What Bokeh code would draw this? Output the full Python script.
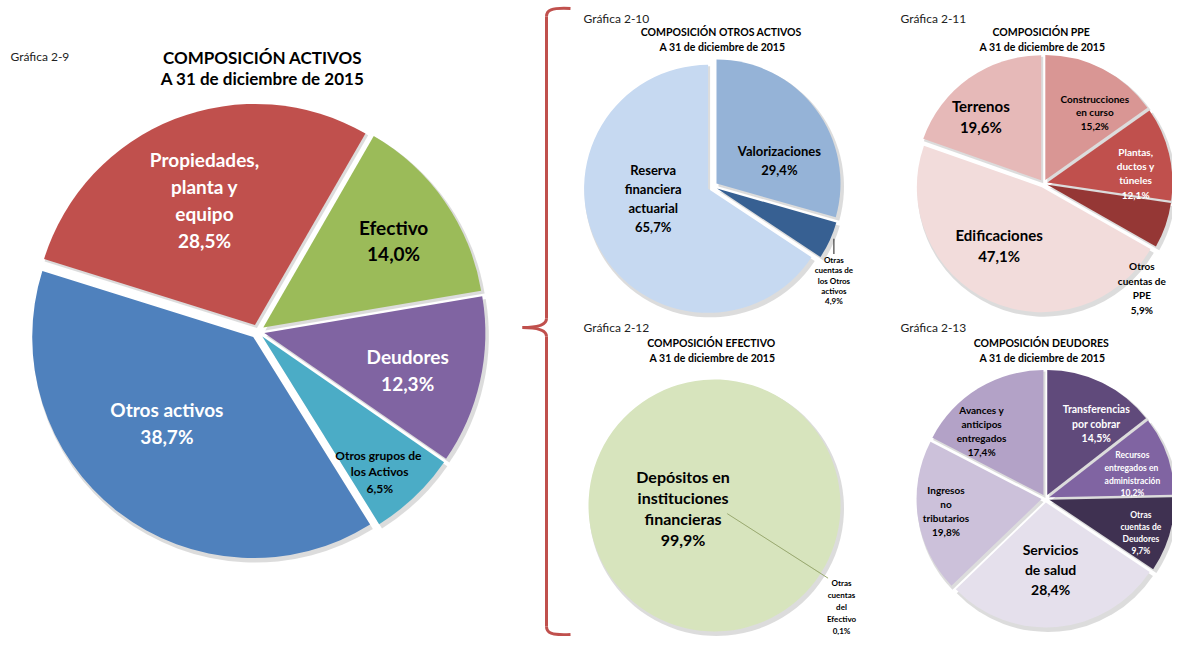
import numpy as np
from bokeh.plotting import figure
from bokeh.models import Range1d
from bokeh.core.properties import value
from bokeh.embed import file_html
from bokeh.resources import INLINE

# ---------------- data ----------------
activos_names = ["Efectivo", "Deudores", "Otros grupos de los Activos", "Otros activos",
                 "Propiedades, planta y equipo"]
activos_pct = [14.0, 12.3, 6.5, 38.7, 28.5]

otros_names = ["Valorizaciones", "Otras cuentas de los Otros activos", "Reserva financiera actuarial"]
otros_pct = [29.4, 4.9, 65.7]

ppe_names = ["Construcciones en curso", "Plantas, ductos y túneles", "Otros cuentas de PPE",
             "Edificaciones", "Terrenos"]
ppe_pct = [15.2, 12.1, 5.9, 47.1, 19.6]

efectivo_names = ["Depósitos en instituciones financieras", "Otras cuentas del Efectivo"]
efectivo_pct = [99.9, 0.1]

deudores_names = ["Transferencias por cobrar", "Recursos entregados en administración",
                  "Otras cuentas de Deudores", "Servicios de salud", "Ingresos no tributarios",
                  "Avances y anticipos entregados"]
deudores_pct = [14.5, 10.2, 9.7, 28.4, 19.8, 17.4]

# label line breaks (text only)
activos_lines = [["Efectivo"], ["Deudores"], ["Otros grupos  de", "los Activos"], ["Otros activos"],
                 ["Propiedades,", "planta y", "equipo"]]
otros_lines = [["Valorizaciones"], ["Otras", "cuentas de", "los Otros", "activos"],
               ["Reserva", "financiera", "actuarial"]]
ppe_lines = [["Construcciones", "en curso"], ["Plantas,", "ductos y", "túneles"],
             ["Otros", "cuentas de", "PPE"], ["Edificaciones"], ["Terrenos"]]
efectivo_lines = [["Depósitos en", "instituciones", "financieras"], ["Otras", "cuentas", "del", "Efectivo"]]
deudores_lines = [["Transferencias", "por cobrar"], ["Recursos", "entregados  en", "administración"],
                  ["Otras", "cuentas de", "Deudores"], ["Servicios", "de salud"],
                  ["Ingresos", "no", "tributarios"], ["Avances y", "anticipos", "entregados"]]

FONT = value("Lato")
W, H = 1172, 636


def Y(yref):
    return 652 - yref


p = figure(width=W, height=H, x_range=Range1d(0, 1172), y_range=Range1d(16, 652),
           output_backend="svg", toolbar_location=None, min_border=0)
p.axis.visible = False
p.grid.visible = False
p.outline_line_color = None
p.background_fill_color = "white"


def fmt(v):
    return f"{v:.1f}".replace(".", ",")


def pie(cx, cyref, r, pct, colors, start, explode, shadow=True):
    pct = np.asarray(pct, float)
    frac = pct / pct.sum()
    ends = start + np.cumsum(frac) * 360
    begins = ends - frac * 360
    mids = (begins + ends) / 2
    rad = np.radians(mids)
    ox = cx + explode * np.sin(rad)
    oy = Y(cyref) + explode * np.cos(rad)
    sa = np.radians(90 - ends)
    ea = np.radians(90 - begins)
    if shadow:
        p.wedge(x=ox + 2, y=oy - 3, radius=r + 1.5, start_angle=sa, end_angle=ea,
                fill_color="#808080", fill_alpha=0.28, line_color=None)
    p.wedge(x=ox, y=oy, radius=r, start_angle=sa, end_angle=ea,
            fill_color=colors, line_color=None)
    return ox, oy, mids


def put_label(ox, oy, mid, r, lines, f, dth, size, color, lh, bold=True):
    a = np.radians(mid + dth)
    x = ox + f * r * np.sin(a)
    y = oy + f * r * np.cos(a)
    n = len(lines)
    ys = [y + (n - 1) / 2 * lh - k * lh for k in range(n)]
    p.text(x=[x] * n, y=ys, text=lines, text_font=FONT, text_font_size=f"{size}px",
           text_font_style="bold" if bold else "normal", text_color=color,
           text_align="center", text_baseline="middle")
    return x, ys[0] + lh / 2


def title(x, y1, y2, t1, t2, size, gx, gy, gtext, gsize=12):
    p.text(x=[x, x], y=[Y(y1), Y(y2)], text=[t1, t2], text_font=FONT, text_font_size=f"{size}px",
           text_font_style="bold", text_color="black", text_align="center", text_baseline="middle")
    p.text(x=[gx], y=[Y(gy)], text=[gtext], text_font=FONT, text_font_size=f"{gsize}px",
           text_color="#222222", text_align="left", text_baseline="middle")


# ---------------- Gráfica 2-9 ----------------
title(262, 57, 78, "COMPOSICIÓN ACTIVOS", "A 31 de diciembre de 2015", 17, 10, 56, "Gráfica 2-9")
c_act = ["#9BBB59", "#8064A2", "#4BACC6", "#4F81BD", "#C0504D"]
ox, oy, mids = pie(257, 331, 221, activos_pct, c_act, 30, 7)
spec = [(0.71, 1, 19, "black", 26), (0.67, 2, 19, "white", 27), (0.81, 2.6, 12, "black", 16.5),
        (0.55, 7.5, 19, "white", 27), (0.61, -0.7, 19, "white", 27)]
for i, (f, d, s, c, lh) in enumerate(spec):
    put_label(ox[i], oy[i], mids[i], 221, activos_lines[i] + [fmt(activos_pct[i]) + "%"], f, d, s, c, lh)

# ---------------- bracket ----------------
bc = "#C0504D"
p.bezier(x0=[570, 546, 522, 546], y0=[Y(8), Y(318), Y(327), Y(626)],
         x1=[546, 522, 546, 570], y1=[Y(16), Y(327), Y(336), Y(634)],
         cx0=[550, 546, 534, 546], cy0=[Y(7), Y(325), Y(327), Y(632)],
         cx1=[546, 534, 546, 550], cy1=[Y(10), Y(327), Y(329), Y(635)],
         line_color=bc, line_width=3)
p.segment(x0=[546, 546], y0=[Y(16), Y(336)], x1=[546, 546], y1=[Y(318), Y(626)],
          line_color=bc, line_width=3)

# ---------------- Gráfica 2-10 ----------------
title(722, 31, 46, "COMPOSICIÓN  OTROS ACTIVOS", "A 31 de diciembre de 2015", 10.5, 583, 18, "Gráfica 2-10")
c_otr = ["#95B3D7", "#376092", "#C6D9F1"]
ox, oy, mids = pie(712, 186, 124, otros_pct, c_otr, 0, 5)
put_label(ox[0], oy[0], mids[0], 124, otros_lines[0] + [fmt(otros_pct[0]) + "%"], 0.54, 17, 13, "black", 19)
put_label(ox[2], oy[2], mids[2], 124, otros_lines[2] + [fmt(otros_pct[2]) + "%"], 0.45, 18, 13, "black", 19)
lx, ltop = put_label(ox[1], oy[1], mids[1], 124, otros_lines[1] + [fmt(otros_pct[1]) + "%"],
                     1.2, 13.6, 8, "black", 10.3)
a = np.radians(mids[1])
sy = oy[1] + 0.97 * 124 * np.cos(a)
p.segment(x0=[lx], y0=[sy], x1=[lx], y1=[ltop + 1], line_color="#404040", line_width=1.2)

# ---------------- Gráfica 2-11 ----------------
title(1042, 31, 46, "COMPOSICIÓN  PPE", "A 31 de diciembre de 2015", 10.5, 900, 18, "Gráfica 2-11")
c_ppe = ["#D99694", "#C0504D", "#953735", "#F2DCDB", "#E6B9B8"]
ox, oy, mids = pie(1043, 183, 125, ppe_pct, c_ppe, 0, 4)
spec = [(0.67, 8.8, 10, "black", 13.5), (0.71, 7.3, 10, "white", 14.3), (1.12, 28.5, 10, "black", 14.5),
        (0.58, 11.6, 15, "black", 21), (0.70, -8.3, 15, "black", 21)]
for i, (f, d, s, c, lh) in enumerate(spec):
    put_label(ox[i], oy[i], mids[i], 125, ppe_lines[i] + [fmt(ppe_pct[i]) + "%"], f, d, s, c, lh)

# ---------------- Gráfica 2-12 ----------------
title(712, 342, 357, "COMPOSICIÓN  EFECTIVO", "A 31 de diciembre de 2015", 10.5, 583, 327, "Gráfica 2-12")
c_efe = ["#D7E4BD", "#C3D69B"]
ox, oy, mids = pie(714, 505, 126, efectivo_pct, c_efe, 122.8, 0)
put_label(ox[0], oy[0], mids[0], 126, efectivo_lines[0] + [fmt(efectivo_pct[0]) + "%"],
          0.25, -36.6, 16, "black", 21)
put_label(ox[1], oy[1], mids[1], 126, efectivo_lines[1] + [fmt(efectivo_pct[1]) + "%"],
          1.29, 6, 8, "black", 12)
a = np.radians(mids[1])
p.segment(x0=[ox[1] + 0.12 * 126 * np.sin(a)], y0=[oy[1] + 0.12 * 126 * np.cos(a)],
          x1=[ox[1] + 1.07 * 126 * np.sin(a)], y1=[oy[1] + 1.07 * 126 * np.cos(a)],
          line_color="#9AAA70", line_width=1)

# ---------------- Gráfica 2-13 ----------------
title(1042, 342, 357, "COMPOSICIÓN  DEUDORES", "A 31 de diciembre de 2015", 10.5, 900, 327, "Gráfica 2-13")
c_deu = ["#604A7B", "#8064A2", "#3F3151", "#E5E0EC", "#CCC1DA", "#B3A2C7"]
ox, oy, mids = pie(1045, 498, 125, deudores_pct, c_deu, 0, 4)
spec = [(0.69, 8.5, 10.5, "white", 14.5), (0.69, 4, 8.5, "white", 12.7), (0.78, 3.8, 8.5, "white", 12),
        (0.54, 1, 14, "black", 20), (0.77, 1.4, 10, "black", 14), (0.71, -12.8, 10, "black", 14)]
for i, (f, d, s, c, lh) in enumerate(spec):
    put_label(ox[i], oy[i], mids[i], 125, deudores_lines[i] + [fmt(deudores_pct[i]) + "%"], f, d, s, c, lh)

open("out.html", "w").write(file_html(p, INLINE))
